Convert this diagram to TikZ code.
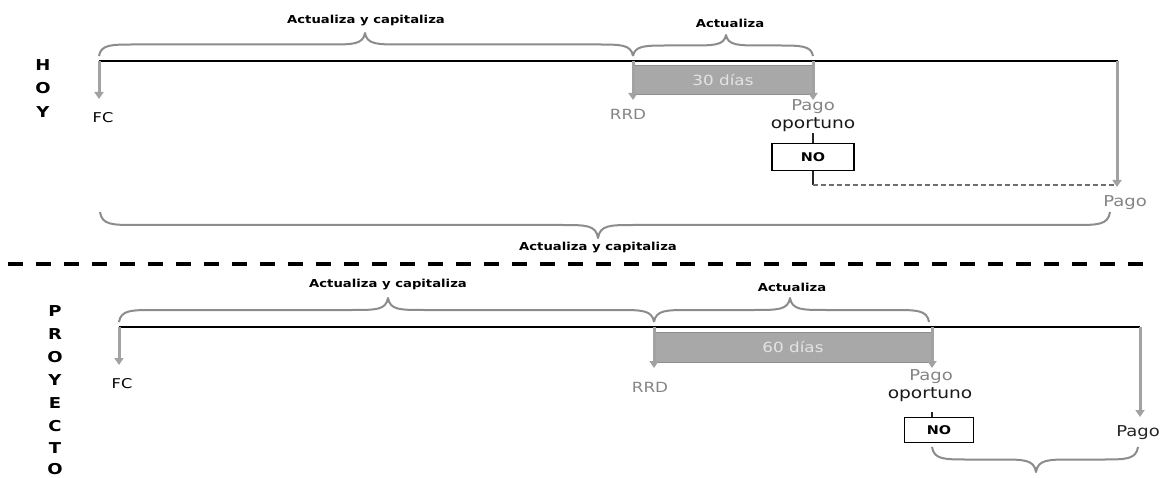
\documentclass[tikz,border=0pt]{standalone}
\usepackage{fontspec}
\setmainfont{DejaVu Sans}
\newfontfamily\lab[FakeStretch=1.2]{DejaVu Sans}
\usetikzlibrary{arrows.meta}
\definecolor{bracegray}{HTML}{8C8C8C}
\definecolor{arrowgray}{HTML}{A2A2A2}
\definecolor{boxfill}{HTML}{A8A8A8}
\definecolor{boxedge}{HTML}{8E8E8E}
\definecolor{boxtext}{HTML}{E4E4E4}
\definecolor{softgray}{HTML}{858585}
\definecolor{dashgray}{HTML}{6E6E6E}
\newcommand\wbrace[5]{%
  \pgfmathsetmacro\bym{(#4+#5)/2}
  \draw[bracestyle] (#1,#4) .. controls ({#1+2},\bym) and ({#1+12},\bym) .. ({#1+36},\bym)
    -- ({#3-36},\bym) .. controls ({#3-12},\bym) and ({#3-2},\bym) .. (#3,#5)
    .. controls ({#3+2},\bym) and ({#3+12},\bym) .. ({#3+36},\bym)
    -- ({#2-36},\bym) .. controls ({#2-12},\bym) and ({#2-2},\bym) .. (#2,#4);
}
\tikzset{
  tl/.style={line width=2.4pt, draw=black},
  garrow/.style={draw=arrowgray, line width=3pt, -{Triangle[width=9pt,length=7pt]}},
  bracestyle/.style={draw=bracegray, line width=2pt, line join=round},
  bracelbl/.style={font=\lab\bfseries\fontsize{11}{13}\selectfont, text=black, inner sep=0pt},
  sidelbl/.style={font=\lab\bfseries\fontsize{15}{17}\selectfont, text=black, inner sep=0pt},
  fclbl/.style={font=\lab\fontsize{13.5}{15}\selectfont, text=black, inner sep=0pt},
  rrdlbl/.style={font=\lab\fontsize{14}{16}\selectfont, text=softgray, inner sep=0pt},
  pagolbl/.style={font=\lab\fontsize{15}{17}\selectfont, text=softgray, inner sep=0pt},
  pagodark/.style={font=\lab\fontsize{15}{17}\selectfont, text=black!85, inner sep=0pt},
  oplbl/.style={font=\lab\fontsize{15.5}{17}\selectfont, text=black!90, inner sep=0pt},
  daybox/.style={draw=boxedge, fill=boxfill, line width=1pt, text=boxtext,
    font=\lab\fontsize{14}{16}\selectfont, inner sep=0pt},
  nobox/.style={draw=black, fill=white, line width=1.6pt, inner sep=0pt,
    font=\lab\bfseries\fontsize{12}{14}\selectfont},
  stub/.style={draw=black!85, line width=1.6pt},
  dashline/.style={draw=dashgray, line width=1.4pt, dash pattern=on 5pt off 3pt},
  sep/.style={draw=black, line width=3.3pt, dash pattern=on 15pt off 13pt}
}
\begin{document}
\begin{tikzpicture}[x=1pt,y=-1pt]
\useasboundingbox[fill=white] (0,0) rectangle (1164,478);

% ---------------- HOY ----------------
\node[sidelbl] (h1) at (43,65) {H};
\node[sidelbl] (h2) at (43,88) {O};
\node[sidelbl] (h3) at (43,112) {Y};

\coordinate (t1s) at (99,61);
\coordinate (t1e) at (1118,61);
\coordinate (t1rrd) at (633,61);
\coordinate (t1po) at (813,61);
\coordinate (t1pay) at (1117,61);

\wbrace{99}{633}{365}{56}{33}
\wbrace{633}{813}{726}{56}{35}
\node[bracelbl] (ac1) at (366,21) {Actualiza y capitaliza};
\node[bracelbl] (a1) at (730,23) {Actualiza};

\node[daybox, minimum width=180pt, minimum height=29pt] (d30) at (723,80) {30 días};
\draw[tl] (t1s) -- (t1e);

\coordinate (fc1a) at (99,99);
\draw[garrow] (t1s) -- (fc1a);
\node[fclbl] (fc1) at (103,118) {FC};

\coordinate (rrd1a) at (633,100);
\coordinate (po1a) at (813,100);
\draw[garrow] (t1rrd) -- (rrd1a);
\draw[garrow] (t1po) -- (po1a);
\node[rrdlbl] (rrd1) at (628,114) {RRD};
\node[pagolbl] (pg1) at (813,107) {Pago};
\node[oplbl] (op1) at (813,125) {oportuno};

\node[nobox, minimum width=82pt, minimum height=27pt] (no1) at (813,157) {NO};
\coordinate (no1top) at (813,133);
\coordinate (no1corner) at (813,185);
\coordinate (pay1a) at (1117,187);
\coordinate (pay1d) at (1114,185);
\draw[stub] (no1top) -- (no1.north);
\draw[stub] (no1.south) -- (no1corner);
\draw[dashline] (no1corner) -- (pay1d);
\draw[garrow] (t1pay) -- (pay1a);
\node[pagolbl] (pay1) at (1125,203) {Pago};

\wbrace{100}{1110}{598}{212}{238}
\node[bracelbl] (ac1b) at (598,248) {Actualiza y capitaliza};

% ---------------- separator ----------------
\coordinate (sepa) at (8,264);
\coordinate (sepb) at (1146,264);
\draw[sep] (sepa) -- (sepb);

% ---------------- PROYECTO ----------------
\foreach \L/\Y [count=\i] in {P/311,R/334,O/357,Y/380,E/403,C/426,T/448,O/469}
  \node[sidelbl] (p\i) at (55,\Y) {\L};

\coordinate (t2s) at (119,327);
\coordinate (t2e) at (1140,327);
\coordinate (t2rrd) at (654,327);
\coordinate (t2po) at (932,327);
\coordinate (t2pay) at (1140,327);

\wbrace{119}{654}{388}{322}{298}
\wbrace{654}{929}{790}{322}{298}
\node[bracelbl] (ac2) at (388,285) {Actualiza y capitaliza};
\node[bracelbl] (a2) at (792,287) {Actualiza};

\node[daybox, minimum width=278pt, minimum height=30pt] (d60) at (793,347) {60 días};
\draw[tl] (t2s) -- (t2e);

\coordinate (fc2a) at (119,365);
\draw[garrow] (t2s) -- (fc2a);
\node[fclbl] (fc2) at (122,384) {FC};

\coordinate (rrd2a) at (654,368);
\coordinate (po2a) at (932,368);
\draw[garrow] (t2rrd) -- (rrd2a);
\draw[garrow] (t2po) -- (po2a);
\node[rrdlbl] (rrd2) at (650,387) {RRD};
\node[pagolbl] (pg2) at (931,377) {Pago};
\node[oplbl] (op2) at (930,395) {oportuno};

\node[nobox, minimum width=69pt, minimum height=25pt] (no2) at (939,430) {NO};
\coordinate (no2top) at (932,412);
\draw[stub] (no2top) -- (no2.north -| no2top);

\coordinate (pay2a) at (1140,417);
\draw[garrow] (t2pay) -- (pay2a);
\node[pagodark] (pay2) at (1138,433) {Pago};

\wbrace{932}{1138}{1036}{447}{472}
\end{tikzpicture}
\end{document}
